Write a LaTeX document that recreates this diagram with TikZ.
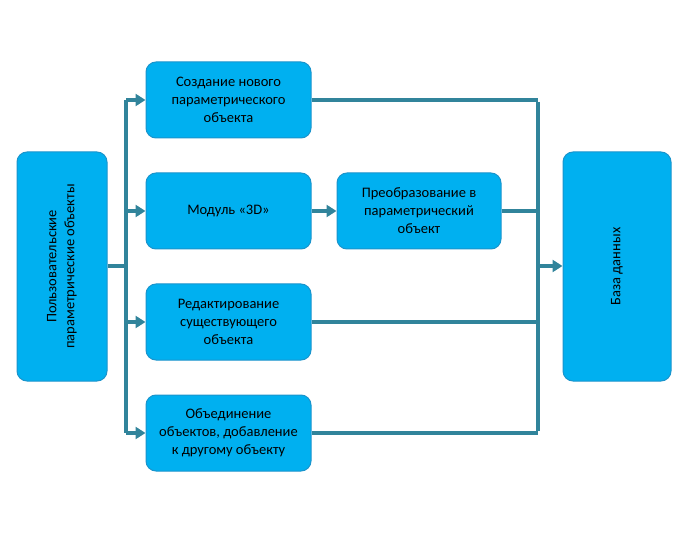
\documentclass[tikz,border=0pt]{standalone}
\usepackage{fontspec}
\setmainfont{Carlito}
\usetikzlibrary{arrows.meta}
\definecolor{boxfill}{HTML}{00B0F0}
\definecolor{boxline}{HTML}{1A94CC}
\definecolor{conn}{HTML}{31849B}
\begin{document}
\begin{tikzpicture}[x=1pt,y=-1pt,
  box/.style={draw=boxline,line width=1pt,fill=boxfill,rounded corners=10pt,
    align=center,font=\fontsize{14.5}{18}\selectfont,inner sep=0pt},
  conn/.style={draw=conn,line width=3.8pt},
  arr/.style={conn,-{Triangle[length=10pt,width=12pt]}}]
\useasboundingbox (0,0) rectangle (688,537);
\node[box,minimum width=90pt,minimum height=229pt] (L) at (62,266.5) {};
\node[rotate=90,align=center,font=\fontsize{14.5}{18}\selectfont] at (L.center) {Пользовательские\\параметрические объекты};
\node[box,minimum width=108pt,minimum height=229pt] (R) at (617,266.5) {};
\node[rotate=90,font=\fontsize{14.5}{18}\selectfont] at (R.center) {База данных};
\node[box,minimum width=165pt,minimum height=76pt] (b1) at (228.5,100) {Создание нового\\параметрического\\объекта};
\node[box,minimum width=165pt,minimum height=76pt] (b2) at (228.5,211) {Модуль «3D»};
\node[box,minimum width=164pt,minimum height=76pt] (b3) at (419,211) {Преобразование в\\параметрический\\объект};
\node[box,minimum width=165pt,minimum height=76pt] (b4) at (228.5,322) {Редактирование\\существующего\\объекта};
\node[box,minimum width=165pt,minimum height=76pt] (b5) at (228.5,433) {Объединение\\объектов, добавление\\к другому объекту};
\coordinate (lj) at (126,266);
\coordinate (rj) at (538,266);
\draw[conn] (L.east |- lj) -- (lj);
\draw[conn] (lj |- b1.west) -- (lj |- b5.west);
\foreach \b in {b1,b2,b4,b5} {\draw[arr] (lj |- \b.west) -- (\b.west);}
\draw[arr] (b2.east) -- (b3.west);
\draw[conn] (b1.east) -- (rj |- b1.east);
\draw[conn] (b3.east) -- (rj |- b3.east);
\draw[conn] (b4.east) -- (rj |- b4.east);
\draw[conn] (b5.east) -- (rj |- b5.east);
\draw[conn] ([yshift=-1.9pt]rj |- b1.east) -- ([yshift=1.9pt]rj |- b5.east);
\draw[arr] (rj) -- (R.west |- rj);
\end{tikzpicture}
\end{document}
